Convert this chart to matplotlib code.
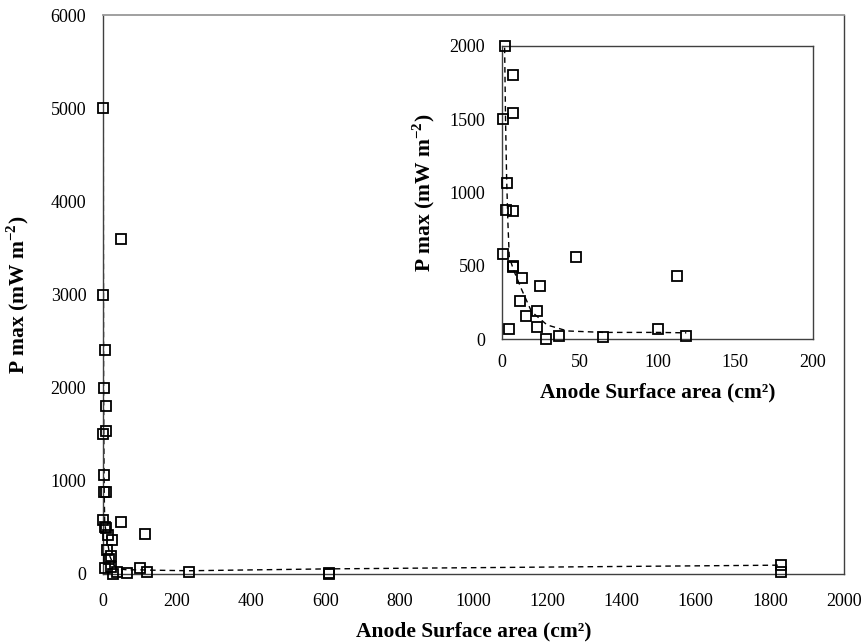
import numpy as np
import matplotlib
matplotlib.use('Agg')
import matplotlib.pyplot as plt

plt.rcParams['font.family'] = ['Liberation Serif', 'DejaVu Serif']
plt.rcParams['mathtext.fontset'] = 'custom'
plt.rcParams['mathtext.rm'] = 'Liberation Serif'
plt.rcParams['mathtext.bf'] = 'Liberation Serif:bold'

# measured data: anode surface area (cm2) vs max power density (mW m-2)
area = [0.3, 0.3, 5, 50, 1.7, 7.1, 7.1, 0.6, 3.4, 2.6, 7.3, 0.4, 6.8, 7.3,
        47.9, 12.8, 24.2, 11.3, 22.7, 15.2, 4.7, 22.7, 28.4, 36.8, 65, 100.1,
        112.7, 118.5, 232, 610, 610, 1830, 1830]
pmax = [5000, 3000, 2400, 3600, 2000, 1800, 1540, 1500, 1062, 880, 876, 578,
        500, 494, 560, 419, 362, 262, 189, 157, 68, 80, 0, 20, 16, 66,
        428, 20, 22, 0, 10, 95, 20]

# fitted trend (dashed)
fit_x = [1.0, 1.7, 2.3, 3.0, 3.8, 4.7, 7.5, 12.8, 19, 29, 42, 65, 100, 118.5, 232, 610, 1830]
fit_y = [5000, 2000, 1500, 1100, 800, 560, 470, 334, 187, 96, 55, 45, 45, 42, 35, 55, 95]

lab_font = dict(fontsize=15.5, fontweight='bold')

fig = plt.figure(figsize=(8.65, 6.44), dpi=100)
ax = fig.add_axes([0.119, 0.1087, 0.8567, 0.868])
ax.plot(fit_x, fit_y, color='black', lw=1, dashes=(4, 3), zorder=2)
ax.plot(area, pmax, 's', mfc='none', mec='black', mew=1.3, ms=7, zorder=3, clip_on=False)
ax.set_xlim(0, 2000)
ax.set_ylim(0, 6000)
ax.set_xticks(np.arange(0, 2001, 200))
ax.set_yticks(np.arange(0, 6001, 1000))
ax.tick_params(length=0, labelsize=13)
ax.tick_params(axis='x', pad=14)
ax.tick_params(axis='y', pad=12)
for s in ['left', 'right', 'bottom']:
    ax.spines[s].set_color('#404040')
    ax.spines[s].set_linewidth(1)
ax.spines['top'].set_color('#999999')
ax.spines['top'].set_linewidth(1.3)
ax.set_xlabel('Anode Surface area (cm²)', labelpad=8, **lab_font)
ax.set_ylabel(r'P max (mW m$^{\mathbf{-2}}$)', labelpad=14, **lab_font)

# inset zoomed on small areas
a = np.array(area)
p = np.array(pmax)
keep = (a <= 200) & (p <= 2000)
fx = np.array(fit_x)
fy = np.array(fit_y)
fkeep = fx <= 200
ins = fig.add_axes([0.5803, 0.4736, 0.3596, 0.455])
ins.plot(fx[fkeep], fy[fkeep], color='black', lw=1, dashes=(4, 3), zorder=2)
ins.plot(a[keep], p[keep], 's', mfc='none', mec='black', mew=1.3, ms=7, zorder=3, clip_on=False)
ins.set_xlim(0, 200)
ins.set_ylim(0, 2000)
ins.set_xticks(np.arange(0, 201, 50))
ins.set_yticks(np.arange(0, 2001, 500))
ins.tick_params(length=0, labelsize=13)
ins.tick_params(axis='x', pad=11)
ins.tick_params(axis='y', pad=12)
for s in ins.spines.values():
    s.set_color('#404040')
    s.set_linewidth(1)
ins.set_xlabel('Anode Surface area (cm²)', labelpad=8, **lab_font)
ins.set_ylabel(r'P max (mW m$^{\mathbf{-2}}$)', labelpad=9, **lab_font)

fig.savefig('out.png', dpi=100)
